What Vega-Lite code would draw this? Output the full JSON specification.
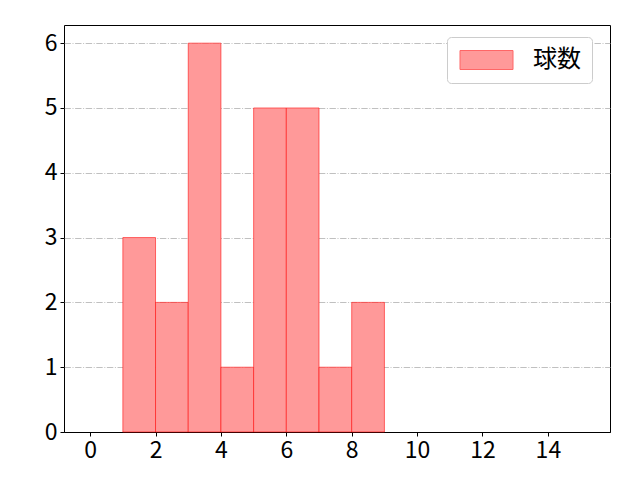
{
  "$schema": "https://vega.github.io/schema/vega-lite/v6.json",
  "width": 546,
  "height": 407,
  "autosize": {"type": "none"},
  "padding": {"left": 64, "top": 25, "right": 30, "bottom": 48},
  "data": {
    "values": [
      {"bin_start": 1, "bin_end": 2, "count": 3},
      {"bin_start": 2, "bin_end": 3, "count": 2},
      {"bin_start": 3, "bin_end": 4, "count": 6},
      {"bin_start": 4, "bin_end": 5, "count": 1},
      {"bin_start": 5, "bin_end": 6, "count": 5},
      {"bin_start": 6, "bin_end": 7, "count": 5},
      {"bin_start": 7, "bin_end": 8, "count": 1},
      {"bin_start": 8, "bin_end": 9, "count": 2}
    ]
  },
  "mark": {
    "type": "bar",
    "stroke": "#ff0000",
    "strokeOpacity": 0.55,
    "strokeWidth": 1,
    "opacity": 1
  },
  "encoding": {
    "x": {
      "field": "bin_start",
      "type": "quantitative",
      "scale": {"domain": [-0.8, 15.9], "nice": false, "zero": false},
      "axis": {"values": [0, 2, 4, 6, 8, 10, 12, 14], "title": null, "grid": false}
    },
    "x2": {"field": "bin_end"},
    "y": {
      "field": "count",
      "type": "quantitative",
      "scale": {"domain": [0, 6.28], "nice": false},
      "axis": {
        "values": [0, 1, 2, 3, 4, 5, 6],
        "title": null,
        "grid": true,
        "gridColor": {"condition": {"test": "datum.value === 0", "value": "#000000"}, "value": "#b0b0b0"},
        "gridDash": {"condition": {"test": "datum.value === 0", "value": []}, "value": [6.4, 1.6, 1, 1.6]},
        "gridWidth": {"condition": {"test": "datum.value === 0", "value": 1}, "value": 0.8}
      }
    },
    "y2": {"datum": 0},
    "color": {
      "datum": "球数",
      "scale": {"range": ["#ff9999"]},
      "legend": {
        "title": null,
        "orient": "none",
        "legendX": 383,
        "legendY": 12,
        "symbolType": "M-1,-0.95H4.3V0.95H-1Z",
        "symbolSize": 400,
        "symbolStrokeColor": "#ff6666",
        "symbolStrokeWidth": 1,
        "symbolOpacity": 1,
        "labelFontSize": 24,
        "labelOffset": 51,
        "labelFont": "Noto Sans CJK JP",
        "labelColor": "#000000",
        "fillColor": "#ffffff",
        "strokeColor": "#cccccc",
        "cornerRadius": 4,
        "padding": 11
      }
    }
  },
  "config": {
    "font": "Noto Sans CJK JP",
    "view": {"stroke": "#000000", "strokeWidth": 1},
    "axis": {
      "domain": false,
      "tickColor": "#000000",
      "tickSize": 4,
      "tickWidth": 1,
      "labelColor": "#000000",
      "labelFontSize": 23,
      "labelFont": "Noto Sans CJK JP",
      "labelPadding": 3
    }
  }
}
